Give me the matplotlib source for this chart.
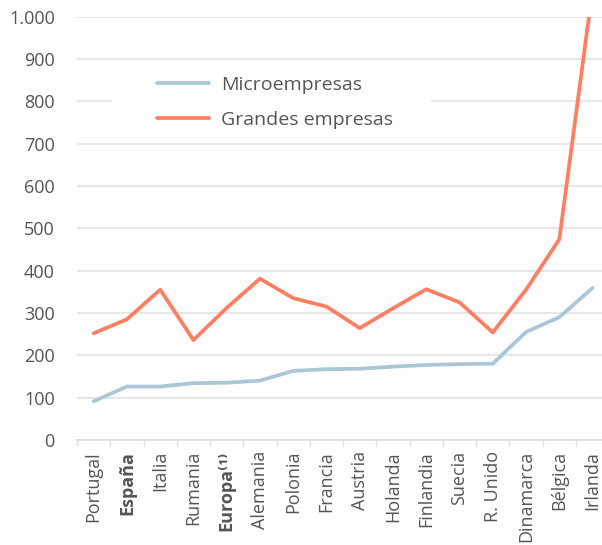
import matplotlib.pyplot as plt
from matplotlib.patches import Rectangle
import numpy as np

# data
paises = ["Portugal", "España", "Italia", "Rumania", "Europa⁽¹⁾", "Alemania", "Polonia",
          "Francia", "Austria", "Holanda", "Finlandia", "Suecia", "R. Unido",
          "Dinamarca", "Bélgica", "Irlanda"]
micro = [91, 126, 126, 134, 135, 140, 163, 167, 168, 173, 177, 179, 180, 255, 290, 359]
grandes = [252, 285, 355, 236, 312, 381, 335, 315, 264, 311, 356, 325, 254, 355, 474, 1065]
negrita = ["España", "Europa⁽¹⁾"]

plt.rcParams['font.family'] = ['Open Sans', 'DejaVu Sans']
gris = '#555555'

fig = plt.figure(figsize=(6.02, 5.45), dpi=100)
ax = fig.add_axes([0.128, 0.193, 0.884, 0.776])

x = np.arange(len(paises))
ax.plot(x, micro, color='#a9c7d7', lw=2.7, label='Microempresas', solid_capstyle='round')
ax.plot(x, grandes, color='#ff7f62', lw=2.7, label='Grandes empresas', solid_capstyle='round')

ax.set_ylim(0, 1000)
ax.set_xlim(-0.5, len(paises) - 0.5)
ax.set_yticks(range(0, 1001, 100))
ax.set_yticklabels([f"{v:,}".replace(",", ".") for v in range(0, 1001, 100)])
ax.grid(axis='y', color='#e3e3e3', lw=1.2)
ax.set_axisbelow(True)

ax.set_xticks(x)
ax.set_xticklabels(paises, rotation=90)
ax.set_xticks(np.arange(-0.5, len(paises)), minor=True)
ax.tick_params(axis='x', which='major', length=0, pad=8, labelsize=13, labelcolor=gris)
ax.tick_params(axis='x', which='minor', length=4, color='#dddddd', width=1)
ax.tick_params(axis='y', length=0, pad=16, labelsize=13, labelcolor=gris)
for t in ax.get_xticklabels():
    if t.get_text() in negrita:
        t.set_fontweight('bold')

for s in ['top', 'right', 'left']:
    ax.spines[s].set_visible(False)
ax.spines['bottom'].set_color('#dddddd')
ax.spines['bottom'].set_linewidth(1.2)

# white box behind the legend hides part of the 800 gridline
ax.add_patch(Rectangle((0.066, 0.74), 0.60, 0.14, transform=ax.transAxes,
                       facecolor='white', edgecolor='none', zorder=1))

leg = ax.legend(loc='upper left', bbox_to_anchor=(0.150, 0.860), fontsize=14,
                handlelength=2.7, handletextpad=0.6, labelspacing=0.85,
                frameon=False, borderpad=0, borderaxespad=0)
for t in leg.get_texts():
    t.set_color(gris)

plt.savefig('out.png', dpi=100)
